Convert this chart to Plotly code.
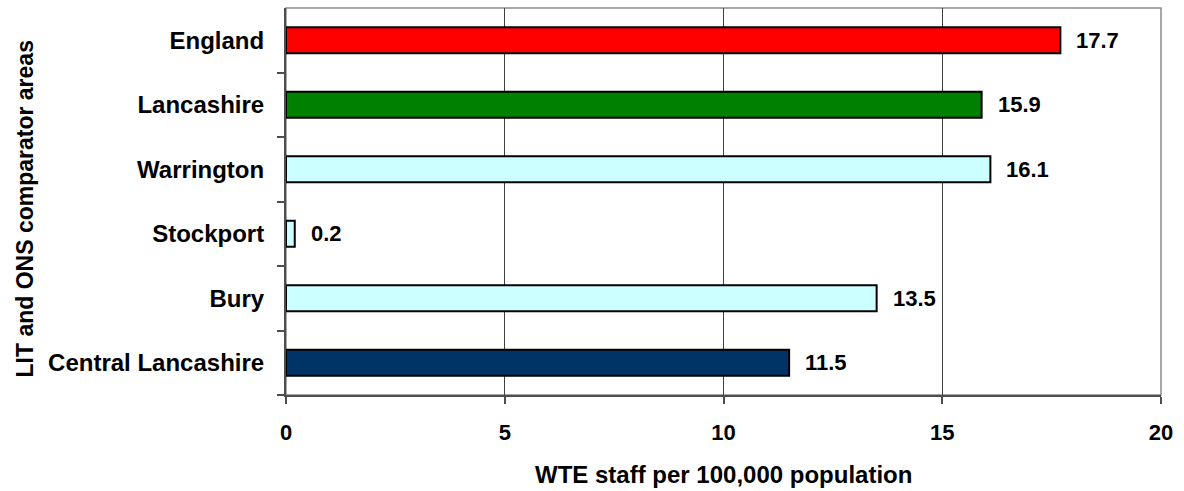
import plotly.graph_objects as go

categories = ["England", "Lancashire", "Warrington", "Stockport", "Bury", "Central Lancashire"]
values = [17.7, 15.9, 16.1, 0.2, 13.5, 11.5]
bar_colors = ["#FF0000", "#008000", "#CCFFFF", "#CCFFFF", "#CCFFFF", "#003366"]
value_labels = ["17.7", "15.9", "16.1", "0.2", "13.5", "11.5"]
x_ticks = [0, 5, 10, 15, 20]
x_title = "WTE staff per 100,000 population"
y_title = "LIT and ONS comparator areas"

FONT = "Liberation Sans, Arial, sans-serif"

fig = go.Figure()
fig.add_trace(go.Bar(
    x=values,
    y=categories,
    orientation="h",
    marker=dict(color=bar_colors, line=dict(color="#000000", width=2)),
    hoverinfo="x+y",
))

for cat, v, lab in zip(categories, values, value_labels):
    fig.add_annotation(
        x=v, y=cat, xref="x", yref="y",
        text="<b>%s</b>" % lab, showarrow=False,
        xanchor="left", yanchor="middle", xshift=14,
        font=dict(family=FONT, size=22, color="#000000"),
    )

fig.add_annotation(
    x=0.5, y=-0.205, xref="paper", yref="paper",
    text="<b>%s</b>" % x_title, showarrow=False,
    xanchor="center", yanchor="middle",
    font=dict(family=FONT, size=24, color="#000000"),
)
fig.add_annotation(
    x=-0.298, y=0.48, xref="paper", yref="paper",
    text="<b>%s</b>" % y_title, showarrow=False, textangle=-90,
    xanchor="center", yanchor="middle",
    font=dict(family=FONT, size=23, color="#000000"),
)

fig.add_shape(type="rect", xref="paper", yref="paper", x0=0, y0=0, x1=1, y1=1,
              line=dict(color="#8c8c8c", width=1.5), layer="below")

fig.update_layout(
    width=1184, height=491,
    margin=dict(l=286, r=23, t=8, b=96),
    paper_bgcolor="#FFFFFF", plot_bgcolor="#FFFFFF",
    showlegend=False,
    bargap=0.6,
    font=dict(family=FONT, size=22, color="#000000"),
    xaxis=dict(
        range=[0, 20], tickvals=x_ticks, ticktext=["<b>%d</b>" % t for t in x_ticks],
        showgrid=True, gridcolor="#404040", gridwidth=1,
        zeroline=False,
        showline=True, linecolor="#4d4d4d", linewidth=2,
        ticks="outside", ticklen=7, tickcolor="#4d4d4d", tickwidth=2,
        ticklabelstandoff=10,
        tickfont=dict(family=FONT, size=22, color="#000000"),
        fixedrange=True,
    ),
    yaxis=dict(
        categoryorder="array", categoryarray=categories[::-1],
        tickvals=categories, ticktext=["<b>%s</b>" % c for c in categories],
        showgrid=False, zeroline=False,
        showline=True, linecolor="#4d4d4d", linewidth=2,
        ticks="outside", ticklen=7, tickcolor="#4d4d4d", tickwidth=2,
        tickson="boundaries",
        ticklabelstandoff=15,
        tickfont=dict(family=FONT, size=24, color="#000000"),
        fixedrange=True,
    ),
)

fig.write_html(
    "out.html",
    config={"displayModeBar": False},
    post_script="document.body.style.margin='0';document.body.style.padding='0';",
)
